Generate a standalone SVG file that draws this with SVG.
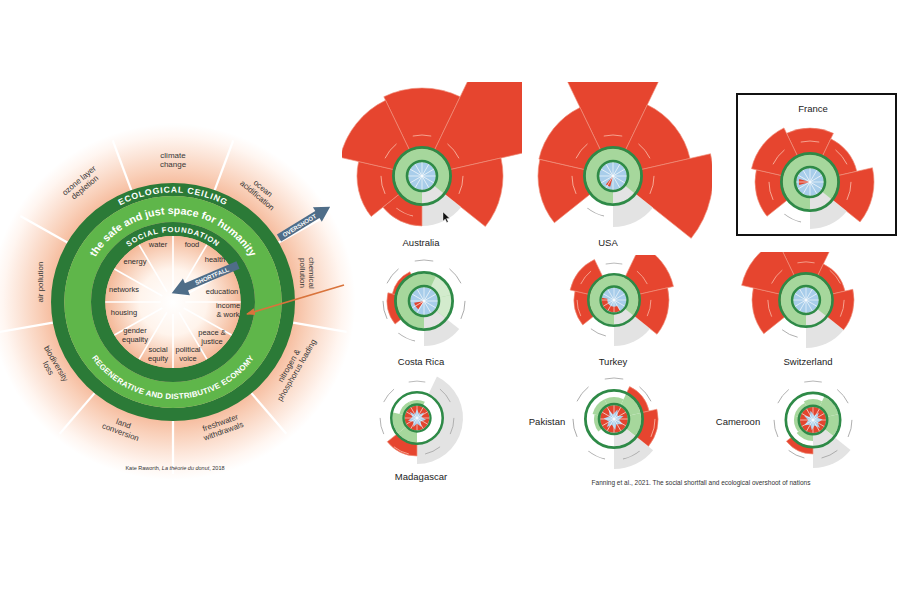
<svg xmlns="http://www.w3.org/2000/svg" xmlns:xlink="http://www.w3.org/1999/xlink" width="900" height="600" viewBox="0 0 900 600">
<style>
.red{fill:#e6452f;stroke:#f0917c;stroke-width:.6}
.gry{fill:#e3e3e3}
.lg{fill:#a6d79c}
.pale{fill:#d3ebcd}
.blue{fill:#a8cdea}
.rc{fill:#e2452f}
.lab{fill:none;stroke:#a9a9a9;stroke-width:.9}
.labr{fill:none;stroke:#f6ab98;stroke-width:.9}
.cname{font-family:"Liberation Sans",Arial,sans-serif;font-size:9.5px;fill:#222;text-anchor:middle}
.dl{font-family:"Liberation Sans",Arial,sans-serif;font-size:8px;fill:#383838;text-anchor:middle}
.il{font-family:"Liberation Sans",Arial,sans-serif;font-size:7.5px;fill:#2e2e2e;text-anchor:middle}
.band{font-family:"Liberation Sans",Arial,sans-serif;fill:#fff;font-weight:bold}
.arrtxt{font-family:"Liberation Sans",Arial,sans-serif;font-size:6px;fill:#fff;font-weight:bold;text-anchor:middle}
.cap{font-family:"Liberation Sans",Arial,sans-serif;fill:#333;text-anchor:middle}
</style>
<defs>
<radialGradient id="gPeach" r="0.5">
<stop offset="0.66" stop-color="#f6bc9e"/>
<stop offset="0.74" stop-color="#f9cfb8"/>
<stop offset="0.84" stop-color="#fce4d7"/>
<stop offset="0.93" stop-color="#fff6f1"/>
<stop offset="1" stop-color="#ffffff"/>
</radialGradient>
<radialGradient id="gIn" r="0.5">
<stop offset="0" stop-color="#ffffff"/>
<stop offset="0.5" stop-color="#fff4ec"/>
<stop offset="1" stop-color="#f4b999"/>
</radialGradient>
<path id="pEco" d="M-94.83,-54.75A109.5 109.5 0 0 1 94.83,-54.75"/>
<path id="pSafe" d="M-85,-22.78A88 88 0 0 1 85,-22.78"/>
<path id="pSoc" d="M-60.62,-35A70 70 0 0 1 60.62,-35"/>
<path id="pReg" d="M-84,48.5A97 97 0 0 0 84,48.5"/>
<path id="la" d="M-9.22,-39.95A41 41 0 0 1 9.22,-39.95"/>
<path id="bw" d="M0,0L-11.8,-24.51A27.2 27.2 0 0 1 11.8,-24.51Z"/>
<path id="bw20" d="M0,0L-8.68,-18.02A20 20 0 0 1 8.68,-18.02Z"/>
<path id="bw22" d="M0,0L-9.55,-19.82A22 22 0 0 1 9.55,-19.82Z"/>
<path id="star" d="M0,-10L2.5,-4L8,-6L5,-1L10,2L4,4L5,10L0,6L-4,10L-4,4L-10,3L-5,-1L-8,-7L-2.5,-4Z"/>
<g id="core">
<circle r="28.6" fill="none" stroke="#2e8a47" stroke-width="2.8"/>
<circle r="15" fill="none" stroke="#2e8a47" stroke-width="2.6"/>
<g stroke="#fff" stroke-width=".6">
<line y1="-13.6" y2="13.6"/>
<line y1="-13.6" y2="13.6" transform="rotate(30)"/>
<line y1="-13.6" y2="13.6" transform="rotate(60)"/>
<line y1="-13.6" y2="13.6" transform="rotate(90)"/>
<line y1="-13.6" y2="13.6" transform="rotate(120)"/>
<line y1="-13.6" y2="13.6" transform="rotate(150)"/>
</g>
</g>
<clipPath id="cAus"><rect x="342" y="82" width="180" height="170"/></clipPath>
<clipPath id="cUsa"><rect x="525" y="82" width="187" height="170"/></clipPath>
<clipPath id="cTur"><rect x="530" y="255" width="190" height="120"/></clipPath>
<clipPath id="cSui"><rect x="725" y="252" width="175" height="120"/></clipPath>
<marker id="mOr" markerUnits="userSpaceOnUse" markerWidth="9" markerHeight="7" refX="8" refY="3.5" orient="auto"><path d="M0,0L9,3.5L0,7Z" fill="#d9743c"/></marker>
</defs>

<rect width="900" height="600" fill="#fff"/>

<!-- Raworth doughnut -->
<g id="raworth-donut">
<g transform="translate(173,302) scale(1.025,1)">
<circle r="178" fill="url(#gPeach)"/>
<g stroke="#fff" stroke-width="2.2">
<line y1="-119" y2="-172" transform="rotate(20)"/>
<line y1="-119" y2="-172" transform="rotate(60)"/>
<line y1="-119" y2="-172" transform="rotate(100)"/>
<line y1="-119" y2="-172" transform="rotate(140)"/>
<line y1="-119" y2="-172" transform="rotate(180)"/>
<line y1="-119" y2="-172" transform="rotate(220)"/>
<line y1="-119" y2="-172" transform="rotate(260)"/>
<line y1="-119" y2="-172" transform="rotate(300)"/>
<line y1="-119" y2="-172" transform="rotate(340)"/>
</g>
<circle r="112.5" fill="none" stroke="#2b7a37" stroke-width="13"/>
<circle r="93" fill="none" stroke="#5fb64a" stroke-width="26"/>
<circle r="73" fill="none" stroke="#2b7a37" stroke-width="14"/>
<circle r="66" fill="url(#gIn)"/>
<g stroke="#fff" stroke-width="1.6">
<line y1="-12" y2="-66"/>
<line y1="-12" y2="-66" transform="rotate(30)"/>
<line y1="-12" y2="-66" transform="rotate(60)"/>
<line y1="-12" y2="-66" transform="rotate(90)"/>
<line y1="-12" y2="-66" transform="rotate(120)"/>
<line y1="-12" y2="-66" transform="rotate(150)"/>
<line y1="-12" y2="-66" transform="rotate(180)"/>
<line y1="-12" y2="-66" transform="rotate(210)"/>
<line y1="-12" y2="-66" transform="rotate(240)"/>
<line y1="-12" y2="-66" transform="rotate(270)"/>
<line y1="-12" y2="-66" transform="rotate(300)"/>
<line y1="-12" y2="-66" transform="rotate(330)"/>
</g>
<text class="band" font-size="8.5" letter-spacing="0.8"><textPath href="#pEco" startOffset="50%" text-anchor="middle">ECOLOGICAL CEILING</textPath></text>
<text class="band" font-size="10.5"><textPath href="#pSafe" startOffset="50%" text-anchor="middle">the safe and just space for humanity</textPath></text>
<text class="band" font-size="7.5" letter-spacing="0.8"><textPath href="#pSoc" startOffset="50%" text-anchor="middle">SOCIAL FOUNDATION</textPath></text>
<text class="band" font-size="7.8" font-weight="normal" letter-spacing="0.2"><textPath href="#pReg" startOffset="50%" text-anchor="middle">REGENERATIVE AND DISTRIBUTIVE ECONOMY</textPath></text>
</g>

<g class="dl">
<text x="173" y="158">climate</text><text x="173" y="167">change</text>
<g transform="translate(260,192) rotate(40)"><text y="-2">ocean</text><text y="7">acidification</text></g>
<g transform="translate(82,184) rotate(-40)"><text y="-2">ozone layer</text><text y="7">depletion</text></g>
<g transform="translate(40,282) rotate(-90)"><text y="2.5">air pollution</text></g>
<g transform="translate(307,273) rotate(90)"><text y="-2">chemical</text><text y="7">pollution</text></g>
<g transform="translate(293,368) rotate(-60)"><text y="-2">nitrogen &amp;</text><text y="7">phosphorus loading</text></g>
<g transform="translate(222,427) rotate(-20)"><text y="-2">freshwater</text><text y="7">withdrawals</text></g>
<g transform="translate(122,428) rotate(20)"><text y="-2">land</text><text y="7">conversion</text></g>
<g transform="translate(52,366) rotate(60)"><text y="-2">biodiversity</text><text y="7">loss</text></g>
</g>
<g class="il">
<text x="158" y="247">water</text>
<text x="192" y="247">food</text>
<text x="135" y="264">energy</text>
<text x="215" y="262">health</text>
<text x="124" y="292">networks</text>
<text x="222" y="294">education</text>
<text x="124" y="315">housing</text>
<text x="228" y="308">income</text><text x="228" y="317">&amp; work</text>
<text x="135" y="333">gender</text><text x="135" y="342">equality</text>
<text x="212" y="335">peace &amp;</text><text x="212" y="344">justice</text>
<text x="158" y="352">social</text><text x="158" y="361">equity</text>
<text x="188" y="352">political</text><text x="188" y="361">voice</text>
</g>

<g id="overshoot-arrow" transform="translate(279,238) rotate(-31.5)">
<path d="M0,-4H45V-8.5L60,0L45,8.5V4H0Z" fill="#4f6d88"/>
<text class="arrtxt" x="24" y="2.2">OVERSHOOT</text>
</g>
<g id="shortfall-arrow">
<path transform="translate(238,265) rotate(157)" d="M0,-4H56V-9L72,0L56,9V4H0Z" fill="#4f6d88"/>
<text class="arrtxt" transform="translate(212,276) rotate(-23)" y="2.2">SHORTFALL</text>
</g>
<text class="cap" x="175" y="470" font-size="5.5">Kate Raworth, <tspan font-style="italic">La théorie du donut</tspan>, 2018</text>
</g>

<g id="connectors">
<line x1="344" y1="285" x2="247" y2="314" stroke="#d9743c" stroke-width="1.6" marker-end="url(#mOr)"/>
</g>

<!-- Australia -->
<g id="australia">
<g clip-path="url(#cAus)"><g transform="translate(422,176)">
<path class="red" d="M0,0L-38.18,-79.29A88 88 0 0 1 38.18,-79.29Z"/>
<path class="red" transform="rotate(51.43)" d="M0,0L-60.75,-126.14A140 140 0 0 1 60.75,-126.14Z"/>
<path class="red" transform="rotate(102.86)" d="M0,0L-35.15,-72.98A81 81 0 0 1 35.15,-72.98Z"/>
<path class="gry" transform="rotate(154.29)" d="M0,0L-21.7,-45.05A50 50 0 0 1 21.7,-45.05Z"/>
<path class="red" transform="rotate(205.71)" d="M0,0L-21.7,-45.05A50 50 0 0 1 21.7,-45.05Z"/>
<path class="red" transform="rotate(257.14)" d="M0,0L-28.2,-58.57A65 65 0 0 1 28.2,-58.57Z"/>
<path class="red" transform="rotate(308.57)" d="M0,0L-36.45,-75.68A84 84 0 0 1 36.45,-75.68Z"/>
</g></g>
<g transform="translate(422,176)">
<use href="#la" class="labr"/><use href="#la" class="labr" transform="rotate(51.43)"/><use href="#la" class="labr" transform="rotate(102.86)"/><use href="#la" class="labr" transform="rotate(205.71)"/><use href="#la" class="labr" transform="rotate(257.14)"/><use href="#la" class="labr" transform="rotate(308.57)"/>
<circle r="27.5" class="lg"/>
<use href="#bw" class="gry" transform="rotate(154.29)"/>
<circle r="13.7" class="blue"/>
<use href="#core"/>
</g>
<polygon points="443,212 443,221 445.2,219 446.8,222.5 448.2,221.8 446.6,218.4 449.6,218.2" fill="#111" stroke="#fff" stroke-width=".4"/>
<text class="cname" x="421" y="246">Australia</text>
</g>

<!-- USA -->
<g id="usa">
<g clip-path="url(#cUsa)"><g transform="translate(613,176)">
<path class="red" d="M0,0L-65.09,-135.15A150 150 0 0 1 65.09,-135.15Z"/>
<path class="red" transform="rotate(51.43)" d="M0,0L-34.28,-71.18A79 79 0 0 1 34.28,-71.18Z"/>
<path class="red" transform="rotate(102.86)" d="M0,0L-43.39,-90.1A100 100 0 0 1 43.39,-90.1Z"/>
<path class="gry" transform="rotate(154.29)" d="M0,0L-22.13,-45.95A51 51 0 0 1 22.13,-45.95Z"/>
<path class="red" transform="rotate(257.14)" d="M0,0L-32.54,-67.58A75 75 0 0 1 32.54,-67.58Z"/>
<path class="red" transform="rotate(308.57)" d="M0,0L-32.98,-68.48A76 76 0 0 1 32.98,-68.48Z"/>
</g></g>
<g transform="translate(613,176)">
<use href="#la" class="labr"/><use href="#la" class="labr" transform="rotate(51.43)"/><use href="#la" class="labr" transform="rotate(102.86)"/><use href="#la" class="lab" transform="rotate(205.71)"/><use href="#la" class="labr" transform="rotate(257.14)"/><use href="#la" class="labr" transform="rotate(308.57)"/>
<circle r="27.5" class="lg"/>
<use href="#bw" class="gry" transform="rotate(154.29)"/>
<circle r="13.7" class="blue"/>
<path class="rc" d="M0,0L-2.85,10.63A11 11 0 0 1 -7.07,8.43Z"/>
<use href="#core"/>
</g>
<text class="cname" x="608" y="246">USA</text>
</g>

<!-- France -->
<g id="france">
<rect x="737" y="94" width="159" height="141" fill="none" stroke="#111" stroke-width="2"/>
<text class="cname" x="813" y="112">France</text>
<g transform="translate(810,182)">
<path class="red" d="M0,0L-23.43,-48.65A54 54 0 0 1 23.43,-48.65Z"/>
<path class="red" transform="rotate(51.43)" d="M0,0L-20.83,-43.25A48 48 0 0 1 20.83,-43.25Z"/>
<path class="red" transform="rotate(102.86)" d="M0,0L-27.77,-57.66A64 64 0 0 1 27.77,-57.66Z"/>
<path class="gry" transform="rotate(154.29)" d="M0,0L-20.39,-42.35A47 47 0 0 1 20.39,-42.35Z"/>
<path class="red" transform="rotate(257.14)" d="M0,0L-23.86,-49.56A55 55 0 0 1 23.86,-49.56Z"/>
<path class="red" transform="rotate(308.57)" d="M0,0L-26.03,-54.06A60 60 0 0 1 26.03,-54.06Z"/>
<use href="#la" class="labr"/><use href="#la" class="labr" transform="rotate(51.43)"/><use href="#la" class="labr" transform="rotate(102.86)"/><use href="#la" class="lab" transform="rotate(205.71)"/><use href="#la" class="labr" transform="rotate(257.14)"/><use href="#la" class="labr" transform="rotate(308.57)"/>
<circle r="27.5" class="lg"/>
<use href="#bw" class="gry" transform="rotate(154.29)"/>
<circle r="13.7" class="blue"/>
<path class="rc" d="M0,0L-10.8,2.9A11 11 0 0 1 -10.8,-2.9Z"/>
<use href="#core"/>
</g>
</g>

<!-- Costa Rica -->
<g id="costa-rica">
<g transform="translate(424,301)">
<path class="gry" transform="rotate(154.29)" d="M0,0L-19.53,-40.55A45 45 0 0 1 19.53,-40.55Z"/>
<path class="red" transform="rotate(257.14)" d="M0,0L-16.05,-33.34A37 37 0 0 1 16.05,-33.34Z"/>
<path class="red" transform="rotate(308.57)" d="M0,0L-14.1,-29.28A32.5 32.5 0 0 1 14.1,-29.28Z"/>
<use href="#la" class="lab"/><use href="#la" class="lab" transform="rotate(51.43)"/><use href="#la" class="lab" transform="rotate(102.86)"/><use href="#la" class="lab" transform="rotate(205.71)"/><use href="#la" class="lab" transform="rotate(257.14)"/><use href="#la" class="lab" transform="rotate(308.57)"/>
<circle r="27.5" class="lg"/>
<use href="#bw" class="pale" transform="rotate(51.43)"/>
<use href="#bw" class="pale" transform="rotate(102.86)"/>
<use href="#bw" class="gry" transform="rotate(154.29)"/>
<circle r="13.7" class="blue"/>
<path class="rc" d="M0,0L-5.74,8.19A10 10 0 0 1 -9.85,1.74Z"/>
<use href="#core"/>
</g>
<text class="cname" x="421" y="365">Costa Rica</text>
</g>

<!-- Turkey -->
<g id="turkey">
<g clip-path="url(#cTur)"><g transform="translate(614,300)">
<path class="red" transform="rotate(51.43)" d="M0,0L-26.47,-54.96A61 61 0 0 1 26.47,-54.96Z"/>
<path class="red" transform="rotate(102.86)" d="M0,0L-23.86,-49.56A55 55 0 0 1 23.86,-49.56Z"/>
<path class="gry" transform="rotate(154.29)" d="M0,0L-19.96,-41.45A46 46 0 0 1 19.96,-41.45Z"/>
<path class="red" transform="rotate(257.14)" d="M0,0L-17.36,-36.04A40 40 0 0 1 17.36,-36.04Z"/>
<path class="red" transform="rotate(308.57)" d="M0,0L-19.53,-40.55A45 45 0 0 1 19.53,-40.55Z"/>
</g></g>
<g transform="translate(614,300) scale(0.9)">
<use href="#la" class="lab"/><use href="#la" class="labr" transform="rotate(51.43)"/><use href="#la" class="labr" transform="rotate(102.86)"/><use href="#la" class="lab" transform="rotate(205.71)"/><use href="#la" class="labr" transform="rotate(257.14)"/><use href="#la" class="labr" transform="rotate(308.57)"/>
<circle r="27.5" class="lg"/>
<use href="#bw" class="gry" transform="rotate(154.29)"/>
<circle r="13.7" class="blue"/>
<path class="rc" d="M0,0L6.85,11.86A13.7 13.7 0 0 1 -13.49,-2.38Z"/>
<circle r="7.5" class="blue"/>
<use href="#core"/>
</g>
<text class="cname" x="613" y="365">Turkey</text>
</g>

<!-- Switzerland -->
<g id="switzerland">
<g clip-path="url(#cSui)"><g transform="translate(806,300)">
<path class="red" d="M0,0L-30.37,-63.07A70 70 0 0 1 30.37,-63.07Z"/>
<path class="red" transform="rotate(51.43)" d="M0,0L-17.36,-36.04A40 40 0 0 1 17.36,-36.04Z"/>
<path class="red" transform="rotate(102.86)" d="M0,0L-20.83,-43.25A48 48 0 0 1 20.83,-43.25Z"/>
<path class="gry" transform="rotate(154.29)" d="M0,0L-20.83,-43.25A48 48 0 0 1 20.83,-43.25Z"/>
<path class="red" transform="rotate(257.14)" d="M0,0L-23.43,-48.65A54 54 0 0 1 23.43,-48.65Z"/>
<path class="red" transform="rotate(308.57)" d="M0,0L-28.64,-59.47A66 66 0 0 1 28.64,-59.47Z"/>
</g></g>
<g transform="translate(806,300) scale(0.93)">
<use href="#la" class="labr"/><use href="#la" class="labr" transform="rotate(51.43)"/><use href="#la" class="labr" transform="rotate(102.86)"/><use href="#la" class="lab" transform="rotate(205.71)"/><use href="#la" class="labr" transform="rotate(257.14)"/><use href="#la" class="labr" transform="rotate(308.57)"/>
<circle r="27.5" class="lg"/>
<use href="#bw" class="gry" transform="rotate(154.29)"/>
<circle r="13.7" class="blue"/>
<use href="#core"/>
</g>
<text class="cname" x="808" y="365">Switzerland</text>
</g>

<!-- Madagascar -->
<g id="madagascar">
<g transform="translate(417,418)">
<path class="gry" d="M0,0L19.96,-41.45A46 46 0 0 1 0,46Z"/>
<path class="red" transform="rotate(205.71)" d="M0,0L-16.49,-34.24A38 38 0 0 1 16.49,-34.24Z"/>
</g>
<g transform="translate(417,418) scale(0.9)">
<use href="#la" class="lab"/><use href="#la" class="lab" transform="rotate(51.43)"/><use href="#la" class="lab" transform="rotate(102.86)"/><use href="#la" class="lab" transform="rotate(154.29)"/><use href="#la" class="labr" transform="rotate(205.71)"/><use href="#la" class="lab" transform="rotate(257.14)"/><use href="#la" class="lab" transform="rotate(308.57)"/>
<circle r="27.5" fill="#fff"/>
<use href="#bw" class="lg" transform="rotate(205.71)"/>
<use href="#bw" class="lg" transform="rotate(257.14)"/>
<use href="#bw20" class="lg" transform="rotate(308.57)"/>
<use href="#bw20" class="lg"/>
<circle r="13.7" class="rc"/>
<use href="#star" class="blue"/>
<use href="#core"/>
</g>
<text class="cname" x="421" y="480">Madagascar</text>
</g>

<!-- Pakistan -->
<g id="pakistan">
<g transform="translate(614,419)">
<path class="red" transform="rotate(51.43)" d="M0,0L-15.62,-32.44A36 36 0 0 1 15.62,-32.44Z"/>
<path class="red" transform="rotate(102.86)" d="M0,0L-19.09,-39.64A44 44 0 0 1 19.09,-39.64Z"/>
<path class="gry" transform="rotate(154.29)" d="M0,0L-21.7,-45.05A50 50 0 0 1 21.7,-45.05Z"/>
<use href="#la" class="lab"/><use href="#la" class="lab" transform="rotate(51.43)"/><use href="#la" class="labr" transform="rotate(102.86)"/><use href="#la" class="lab" transform="rotate(154.29)"/><use href="#la" class="lab" transform="rotate(205.71)"/><use href="#la" class="lab" transform="rotate(257.14)"/><use href="#la" class="lab" transform="rotate(308.57)"/>
<circle r="27.5" fill="#fff"/>
<use href="#bw" class="lg" transform="rotate(51.43)"/>
<use href="#bw" class="lg" transform="rotate(102.86)"/>
<use href="#bw" class="gry" transform="rotate(154.29)"/>
<use href="#bw22" class="lg"/>
<use href="#bw20" class="lg" transform="rotate(257.14)"/>
<use href="#bw22" class="lg" transform="rotate(308.57)"/>
<circle r="13.7" class="rc"/>
<use href="#star" class="blue" transform="rotate(20)"/>
<use href="#core"/>
</g>
<text class="cname" x="547" y="425">Pakistan</text>
</g>

<!-- Cameroon -->
<g id="cameroon">
<g transform="translate(813,420)">
<path class="gry" transform="rotate(154.29)" d="M0,0L-20.83,-43.25A48 48 0 0 1 20.83,-43.25Z"/>
<path class="red" transform="rotate(205.71)" d="M0,0L-14.75,-30.63A34 34 0 0 1 14.75,-30.63Z"/>
</g>
<g transform="translate(813,420) scale(0.95)">
<use href="#la" class="lab"/><use href="#la" class="lab" transform="rotate(51.43)"/><use href="#la" class="lab" transform="rotate(102.86)"/><use href="#la" class="lab" transform="rotate(154.29)"/><use href="#la" class="lab" transform="rotate(205.71)"/><use href="#la" class="lab" transform="rotate(257.14)"/><use href="#la" class="lab" transform="rotate(308.57)"/>
<circle r="27.5" fill="#fff"/>
<use href="#bw" class="lg" transform="rotate(51.43)"/>
<use href="#bw" class="lg" transform="rotate(102.86)"/>
<use href="#bw" class="gry" transform="rotate(154.29)"/>
<use href="#bw22" class="lg"/>
<use href="#bw22" class="lg" transform="rotate(205.71)"/>
<use href="#bw20" class="lg" transform="rotate(257.14)"/>
<use href="#bw20" class="lg" transform="rotate(308.57)"/>
<circle r="13.7" class="rc"/>
<use href="#star" class="blue" transform="rotate(-15)"/>
<use href="#core"/>
</g>
<text class="cname" x="738" y="425">Cameroon</text>
</g>

<text class="cap" x="701" y="485" font-size="6.5">Fanning et al., 2021. The social shortfall and ecological overshoot of nations</text>
</svg>
